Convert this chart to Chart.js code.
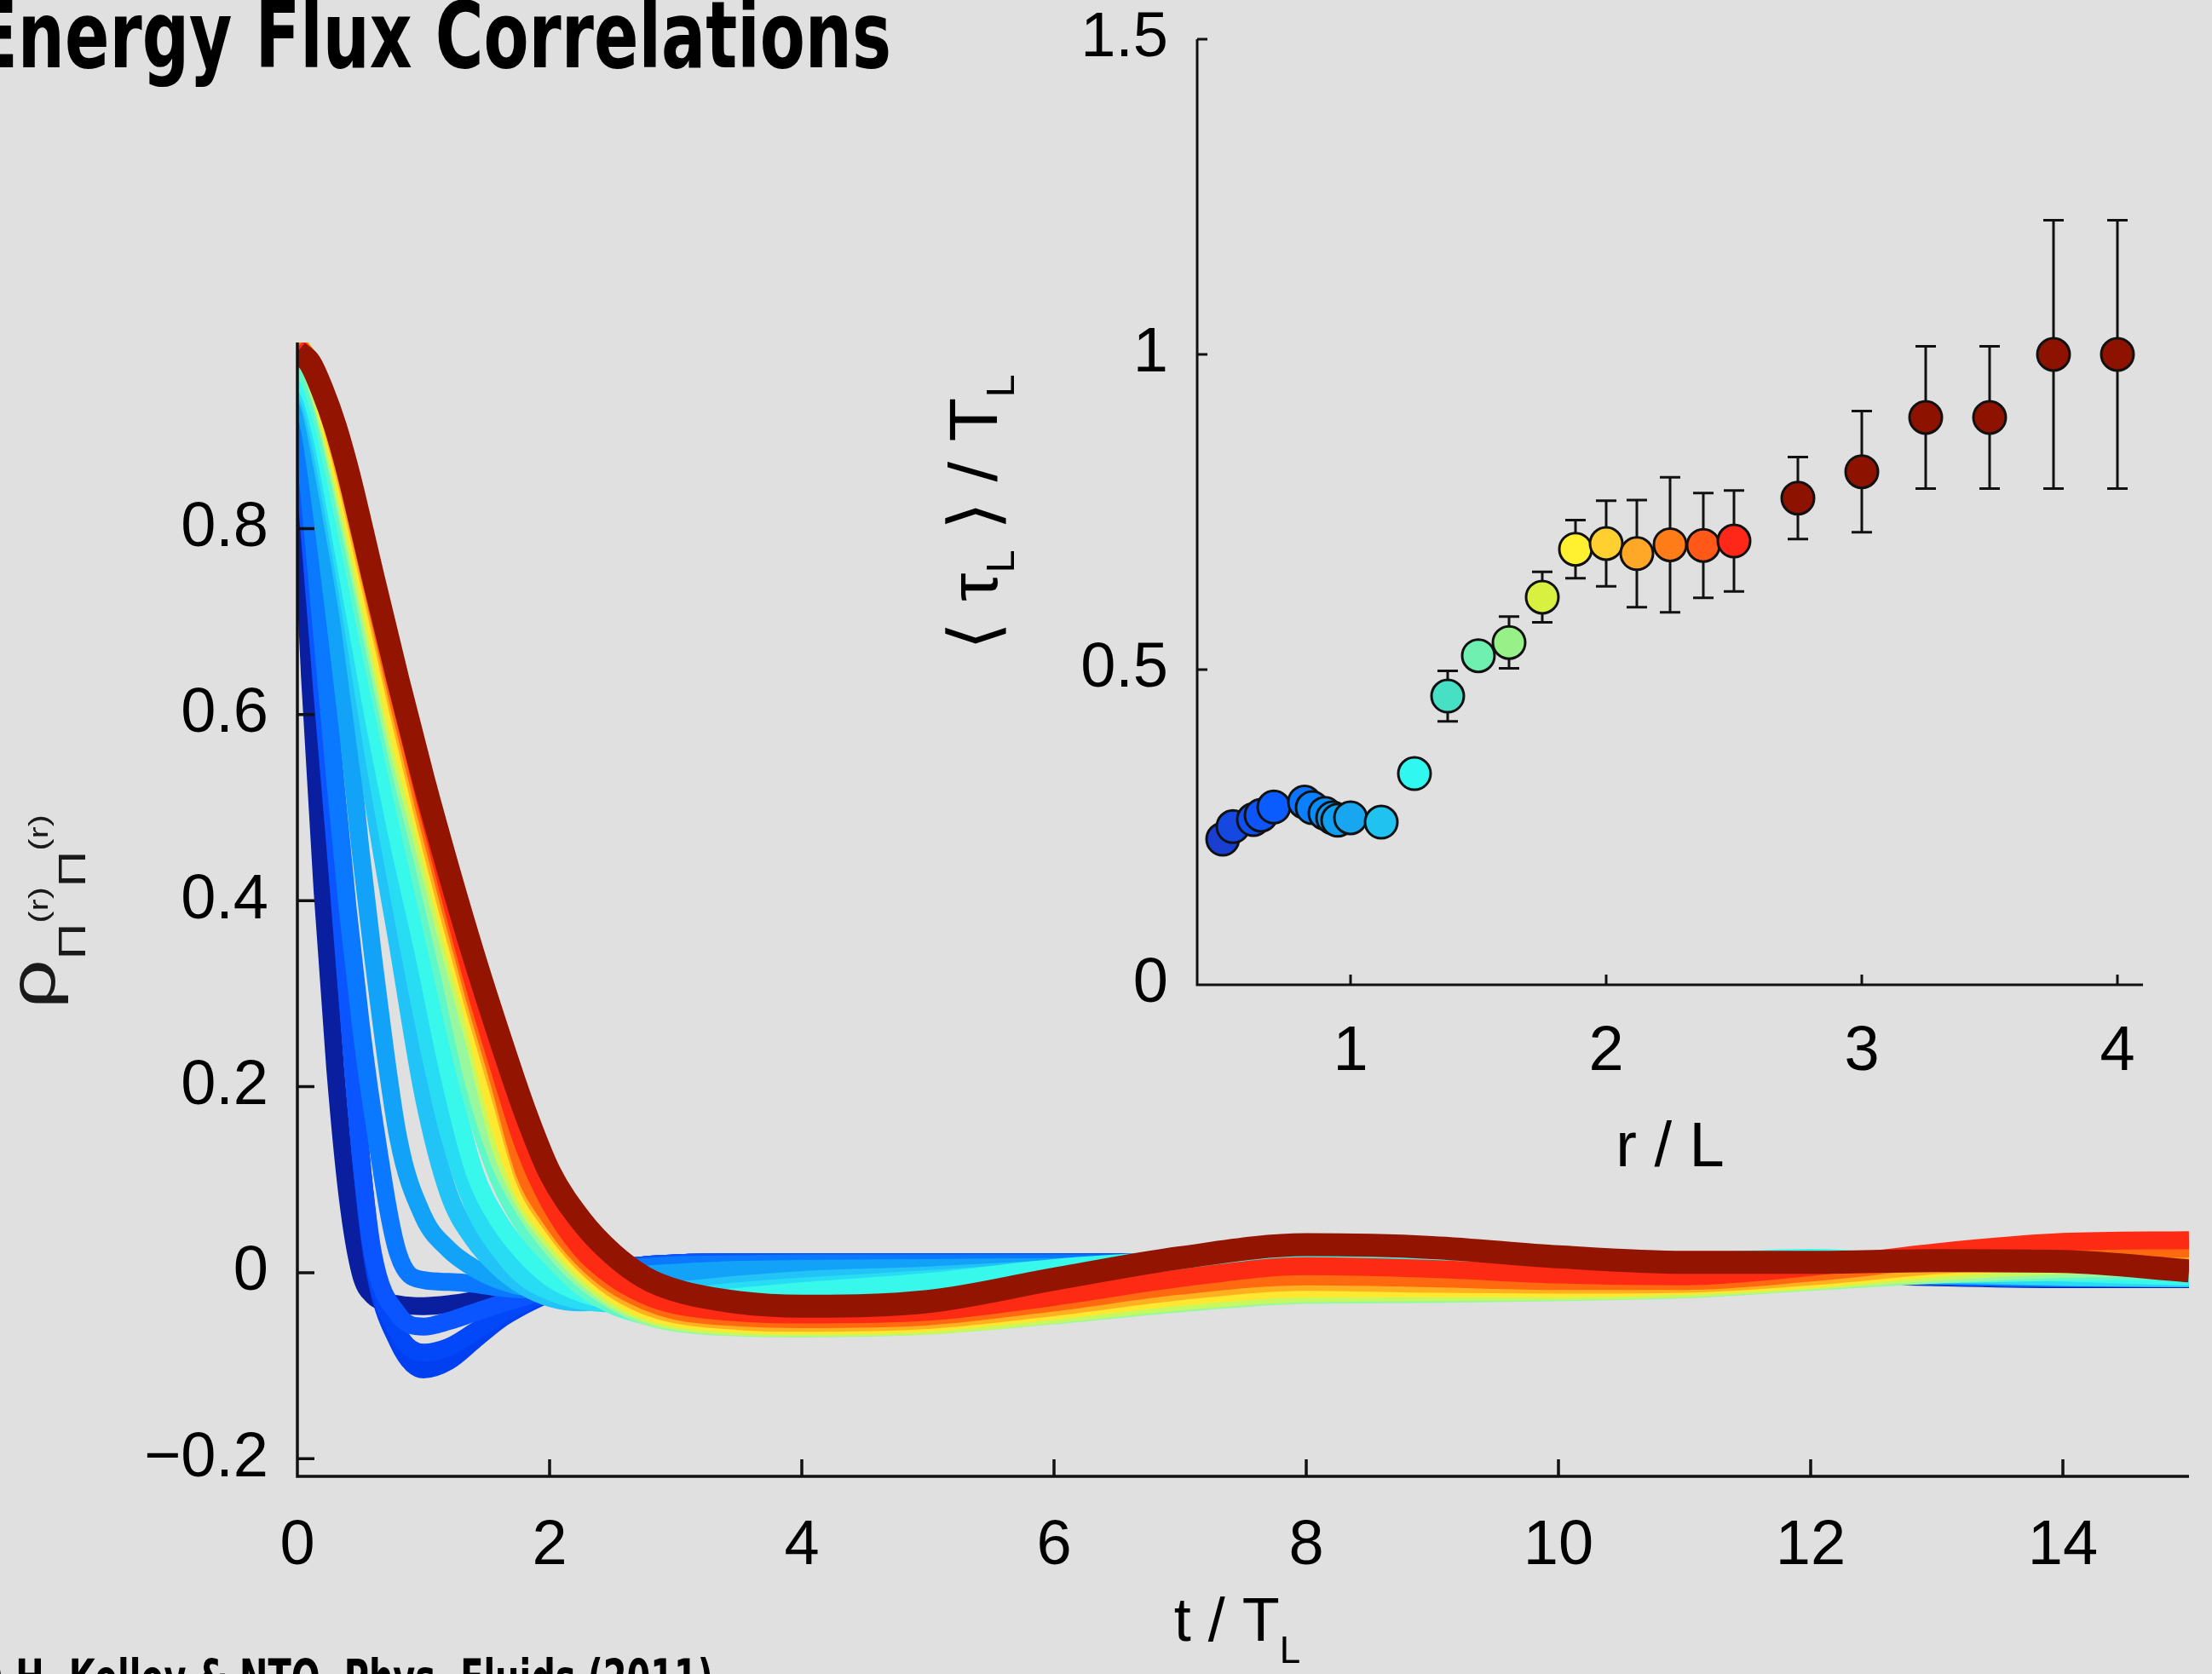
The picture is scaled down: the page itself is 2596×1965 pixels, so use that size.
<!DOCTYPE html>
<html>
<head>
<meta charset="utf-8">
<script src="https://cdn.jsdelivr.net/npm/chart.js@4.4.1/dist/chart.umd.min.js"></script>
<style>
    html, body { margin: 0; padding: 0; background: #e0e0e0; }
    #wrap { position: relative; width: 2596px; height: 1965px; overflow: hidden; background: #e0e0e0; }
    #main { position: absolute; left: 0; top: 0; }
    #inset { position: absolute; left: 1000px; top: 0; }
</style>
</head>
<body>
<div id="wrap">
    <canvas id="main" width="2596" height="1965"></canvas>
    <canvas id="inset" width="1596" height="1420"></canvas>
</div>
<script>
// time lags t / T_L shared by all correlation curves
const tLag = [0, 0.1, 0.2, 0.3, 0.4, 0.5, 0.6, 0.8, 1.0, 1.2, 1.4, 1.6, 1.8, 2.0, 2.25, 2.5, 2.75, 3, 3.5, 4, 5, 6, 7, 8, 9, 10, 11, 12, 13, 14, 15];

// correlation curves, small r (blue) to large r (dark red)
const rhoNavy = [0.93, 0.64, 0.41, 0.22, 0.08, 0.0, -0.025, -0.034, -0.036, -0.034, -0.030, -0.025, -0.019, -0.012, -0.004, 0.004, 0.008, 0.010, 0.011, 0.011, 0.011, 0.011, 0.010, 0.009, 0.007, 0.005, 0.002, -0.002, -0.005, -0.007, -0.007];
const rhoDeepBlue = [0.95, 0.80, 0.64, 0.49, 0.30, 0.13, 0.012, -0.075, -0.104, -0.095, -0.073, -0.051, -0.035, -0.022, -0.008, 0.003, 0.008, 0.010, 0.011, 0.011, 0.011, 0.011, 0.011, 0.010, 0.008, 0.006, 0.003, -0.001, -0.004, -0.006, -0.006];
const rhoDeepBlue2 = [0.95, 0.795, 0.63, 0.475, 0.295, 0.13, 0.015, -0.065, -0.086, -0.080, -0.064, -0.046, -0.032, -0.020, -0.007, 0.003, 0.008, 0.010, 0.011, 0.011, 0.011, 0.011, 0.011, 0.010, 0.008, 0.006, 0.003, -0.001, -0.004, -0.006, -0.006];
const rhoBlue = [0.95, 0.79, 0.62, 0.46, 0.29, 0.13, 0.02, -0.045, -0.058, -0.052, -0.043, -0.034, -0.026, -0.017, -0.006, 0.003, 0.008, 0.010, 0.011, 0.011, 0.011, 0.011, 0.010, 0.010, 0.008, 0.006, 0.003, -0.001, -0.004, -0.006, -0.006];
const rhoMidBlue = [0.955, 0.83, 0.68, 0.53, 0.39, 0.27, 0.17, 0.02, -0.008, -0.010, -0.012, -0.016, -0.018, -0.012, -0.004, 0.003, 0.006, 0.008, 0.009, 0.010, 0.010, 0.010, 0.010, 0.010, 0.008, 0.006, 0.004, 0.000, -0.003, -0.005, -0.005];
const rhoLightBlue = [0.955, 0.905, 0.81, 0.70, 0.585, 0.455, 0.34, 0.145, 0.06, 0.025, 0.005, -0.008, -0.015, -0.015, -0.010, -0.005, -0.002, 0.000, 0.003, 0.004, 0.005, 0.006, 0.008, 0.010, 0.008, 0.006, 0.004, 0.000, -0.003, -0.004, -0.004];
const rhoSky = [0.955, 0.93, 0.865, 0.79, 0.71, 0.61, 0.51, 0.35, 0.19, 0.085, 0.035, 0.005, -0.015, -0.027, -0.032, -0.030, -0.025, -0.020, -0.013, -0.008, -0.003, 0.004, 0.010, 0.012, 0.010, 0.008, 0.006, 0.003, -0.002, -0.005, -0.006];
const rhoSky2 = [0.955, 0.937, 0.88, 0.808, 0.73, 0.645, 0.56, 0.41, 0.27, 0.15, 0.07, 0.025, -0.005, -0.020, -0.030, -0.033, -0.031, -0.027, -0.020, -0.015, -0.007, 0.002, 0.010, 0.014, 0.012, 0.009, 0.007, 0.005, 0.000, -0.004, -0.005];
const rhoCyan = [0.96, 0.945, 0.895, 0.825, 0.75, 0.675, 0.60, 0.465, 0.345, 0.215, 0.11, 0.055, 0.02, -0.005, -0.022, -0.030, -0.032, -0.031, -0.026, -0.020, -0.010, 0.005, 0.014, 0.020, 0.018, 0.013, 0.012, 0.016, 0.008, 0.000, -0.004];
const rhoAqua = [0.975, 0.958, 0.915, 0.855, 0.79, 0.722, 0.655, 0.53, 0.41, 0.29, 0.18, 0.10, 0.05, 0.018, -0.015, -0.035, -0.046, -0.052, -0.055, -0.055, -0.050, -0.040, -0.028, -0.020, -0.018, -0.016, -0.013, -0.007, -0.002, 0.001, 0.002];
const rhoGreen = [0.99, 0.972, 0.93, 0.873, 0.81, 0.745, 0.678, 0.55, 0.44, 0.325, 0.205, 0.12, 0.068, 0.03, -0.006, -0.030, -0.046, -0.054, -0.059, -0.060, -0.057, -0.046, -0.033, -0.024, -0.023, -0.021, -0.018, -0.010, -0.002, 0.004, 0.006];
const rhoLime = [1.0, 0.975, 0.934, 0.88, 0.82, 0.757, 0.692, 0.565, 0.46, 0.352, 0.25, 0.14, 0.076, 0.038, 0.000, -0.027, -0.043, -0.052, -0.058, -0.059, -0.057, -0.045, -0.031, -0.022, -0.021, -0.020, -0.017, -0.009, 0.001, 0.008, 0.010];
const rhoYellow = [1.0, 0.978, 0.94, 0.888, 0.83, 0.77, 0.706, 0.58, 0.478, 0.37, 0.27, 0.16, 0.085, 0.045, 0.006, -0.022, -0.040, -0.049, -0.055, -0.057, -0.054, -0.041, -0.026, -0.017, -0.017, -0.017, -0.014, -0.007, 0.005, 0.013, 0.016];
const rhoOrange = [1.0, 0.98, 0.944, 0.897, 0.843, 0.784, 0.724, 0.603, 0.49, 0.385, 0.286, 0.193, 0.10, 0.054, 0.012, -0.017, -0.035, -0.045, -0.052, -0.054, -0.051, -0.037, -0.020, -0.010, -0.012, -0.013, -0.012, -0.004, 0.008, 0.017, 0.019];
const rhoOrangeRed = [0.998, 0.98, 0.946, 0.902, 0.85, 0.792, 0.733, 0.614, 0.503, 0.398, 0.298, 0.205, 0.108, 0.06, 0.017, -0.012, -0.030, -0.041, -0.048, -0.050, -0.047, -0.032, -0.014, -0.004, -0.006, -0.009, -0.009, 0.000, 0.014, 0.024, 0.026];
const rhoRed = [0.995, 0.98, 0.948, 0.906, 0.856, 0.80, 0.742, 0.625, 0.515, 0.41, 0.31, 0.22, 0.135, 0.075, 0.025, -0.005, -0.024, -0.035, -0.043, -0.045, -0.042, -0.026, -0.006, 0.007, 0.004, -0.002, -0.004, 0.006, 0.022, 0.033, 0.035];
const rhoDarkRed = [0.99, 0.978, 0.948, 0.91, 0.862, 0.806, 0.748, 0.636, 0.53, 0.432, 0.34, 0.255, 0.175, 0.108, 0.056, 0.02, -0.005, -0.019, -0.032, -0.036, -0.031, -0.007, 0.016, 0.030, 0.027, 0.017, 0.011, 0.011, 0.013, 0.012, 0.002];

const curveSeries = [rhoNavy, rhoDeepBlue, rhoDeepBlue2, rhoBlue, rhoMidBlue, rhoLightBlue, rhoSky, rhoSky2, rhoCyan, rhoAqua, rhoGreen, rhoLime, rhoYellow, rhoOrange, rhoOrangeRed, rhoRed, rhoDarkRed];
const curveColors = ["#0a1fa0", "#0040f0", "#0348f8", "#0a55ff", "#0a78ff", "#12a2f8", "#22c4f8", "#28dcf4", "#38f8ec", "#60f8c8", "#98f8a0", "#c8f860", "#ffe830", "#ffb020", "#ff6a10", "#fd2a14", "#931400"];

const yTicks = [-0.2, 0, 0.2, 0.4, 0.6, 0.8];
const yTickLabels = ["\u22120.2", "0", "0.2", "0.4", "0.6", "0.8"];
const xTicks = [0, 2, 4, 6, 8, 10, 12, 14];
const xTickLabels = ["0", "2", "4", "6", "8", "10", "12", "14"];

// inset: mean decorrelation time vs separation
const rOverL = [0.50, 0.54, 0.62, 0.65, 0.70, 0.82, 0.85, 0.90, 0.93, 0.95, 1.00, 1.12, 1.25, 1.38, 1.50, 1.62, 1.75, 1.88, 2.00, 2.12, 2.25, 2.38, 2.50, 2.75, 3.00, 3.25, 3.50, 3.75, 4.00];
const tauMean = [0.231, 0.251, 0.262, 0.269, 0.282, 0.290, 0.281, 0.272, 0.265, 0.261, 0.265, 0.258, 0.335, 0.458, 0.522, 0.543, 0.615, 0.691, 0.700, 0.684, 0.698, 0.697, 0.704, 0.772, 0.814, 0.900, 0.900, 1.000, 1.000];
const tauErr = [0, 0, 0, 0, 0, 0, 0, 0, 0, 0, 0, 0, 0, 0.04, 0, 0.041, 0.04, 0.046, 0.068, 0.085, 0.107, 0.083, 0.08, 0.065, 0.096, 0.113, 0.113, 0.213, 0.213];
const pointColors = ["#1a3fd0", "#1448e0", "#1050f0", "#0d55f8", "#0a5cff", "#0a74ff", "#0a80ff", "#0a8cf8", "#0e96f0", "#109ef0", "#18a6f0", "#20c2f0", "#30f8f0", "#48e0c4", "#70f0b0", "#98f088", "#d8f040", "#fff030", "#ffd030", "#ffa828", "#ff7c18", "#ff5818", "#ff2818", "#8e1200", "#8e1200", "#8e1200", "#8e1200", "#8e1200", "#8e1200"];

const insetYTicks = [0, 0.5, 1, 1.5];
const insetYTickLabels = ["0", "0.5", "1", "1.5"];
const insetXTicks = [1, 2, 3, 4];
const insetXTickLabels = ["1", "2", "3", "4"];

const FONT = '"Liberation Sans", Arial, Helvetica, sans-serif';
const NARROW = '"Liberation Sans Narrow", "DejaVu Sans Condensed", "Liberation Sans", sans-serif';

function drawRich(ctx, parts, fit) {
    // parts: [text, size, dy]; drawn centred at x=0, baseline y=0
    let total = 0;
    parts.forEach(p => {
        ctx.font = p[1] + "px " + FONT;
        p.w = ctx.measureText(p[0]).width;
        total += p.w;
    });
    if (fit) ctx.scale(fit / total, 1);
    let cx = -total / 2;
    parts.forEach(p => {
        ctx.font = p[1] + "px " + FONT;
        ctx.fillText(p[0], cx, p[2]);
        cx += p.w;
    });
}

function drawFitted(ctx, text, font, x, y, width) {
    ctx.save();
    ctx.font = font;
    const w = ctx.measureText(text).width;
    ctx.translate(x, y);
    ctx.scale(width / w, 1);
    ctx.fillText(text, 0, 0);
    ctx.restore();
}

// keep the layout from adding room for edge labels
function noEdgePadding(s) {
    s.paddingTop = 0;
    s.paddingBottom = 0;
    s.paddingLeft = 0;
    s.paddingRight = 0;
}

function axesWithInwardTicks(tickLen, lw) {
    return {
        id: "inwardAxes",
        afterDatasetsDraw(chart) {
            const { ctx, chartArea: a, scales: { x, y } } = chart;
            ctx.save();
            ctx.strokeStyle = "#111";
            ctx.lineWidth = lw;
            ctx.beginPath();
            ctx.moveTo(a.left, a.top);
            ctx.lineTo(a.left, a.bottom);
            ctx.lineTo(a.right, a.bottom);
            x.ticks.forEach(t => {
                const px = x.getPixelForValue(t.value);
                ctx.moveTo(px, a.bottom);
                ctx.lineTo(px, a.bottom - tickLen);
            });
            y.ticks.forEach(t => {
                const py = y.getPixelForValue(t.value);
                ctx.moveTo(a.left, py);
                ctx.lineTo(a.left + tickLen, py);
            });
            ctx.stroke();
            ctx.restore();
        }
    };
}

const mainText = {
    id: "mainText",
    afterDraw(chart) {
        const ctx = chart.ctx;
        ctx.save();
        ctx.fillStyle = "#000";
        ctx.textBaseline = "alphabetic";
        drawFitted(ctx, "Energy Flux Correlations", "bold 108px " + NARROW, -32, 79, 1078);
        drawFitted(ctx, "D.H. Kelley & NTO, Phys. Fluids (2011)", "bold 61px " + NARROW, -30, 1991, 867);

        // x title
        ctx.save();
        ctx.translate(1452, 1926);
        drawRich(ctx, [["t / T", 72, 0], ["L", 44, 26]]);
        ctx.restore();

        // y title
        ctx.save();
        ctx.fillStyle = "#1a1a1a";
        ctx.translate(64, 1070);
        ctx.rotate(-Math.PI / 2);
        drawRich(ctx, [["\u03C1", 76, 0], ["\u03A0", 44, 36], ["(r)", 32, -8], ["\u03A0", 44, 36], ["(r)", 32, -8]], 228);
        ctx.restore();
        ctx.restore();
    }
};

const insetText = {
    id: "insetText",
    afterDraw(chart) {
        const ctx = chart.ctx;
        ctx.save();
        ctx.fillStyle = "#000";
        ctx.textBaseline = "alphabetic";
        // x title (canvas is offset 1000px from the page)
        ctx.save();
        ctx.translate(960, 1369);
        drawRich(ctx, [["r / L", 74, 0]]);
        ctx.restore();
        // y title
        ctx.save();
        ctx.translate(170, 601);
        ctx.rotate(-Math.PI / 2);
        drawRich(ctx, [["\u27E8 \u03C4", 80, 0], ["L", 46, 20], [" \u27E9 / T", 80, 0], ["L", 46, 20]], 323);
        ctx.restore();
        ctx.restore();
    }
};

const errorBars = {
    id: "errorBars",
    beforeDatasetsDraw(chart) {
        const { ctx, scales: { x, y } } = chart;
        ctx.save();
        ctx.strokeStyle = "#111";
        ctx.lineWidth = 3;
        rOverL.forEach((r, i) => {
            const e = tauErr[i];
            if (!e) return;
            const px = x.getPixelForValue(r);
            const top = y.getPixelForValue(tauMean[i] + e);
            const bot = y.getPixelForValue(tauMean[i] - e);
            ctx.beginPath();
            ctx.moveTo(px, top);
            ctx.lineTo(px, bot);
            ctx.moveTo(px - 12, top);
            ctx.lineTo(px + 12, top);
            ctx.moveTo(px - 12, bot);
            ctx.lineTo(px + 12, bot);
            ctx.stroke();
        });
        ctx.restore();
    }
};

const n = curveSeries.length;
const curveDatasets = curveSeries.map((vals, i) => ({
    data: tLag.map((t, k) => ({ x: t, y: vals[k] })),
    borderColor: curveColors[i],
    borderWidth: i === n - 1 ? 27 : 21,
    pointRadius: 0,
    fill: false,
    cubicInterpolationMode: "monotone",
    borderCapStyle: "butt",
    borderJoinStyle: "round",
    order: n - i,
    clip: 0,
}));

const tickFont = { family: FONT, size: 74 };

const config = {
    type: "line",
    data: { datasets: curveDatasets },
    options: {
        responsive: false,
        animation: false,
        layout: { padding: { left: 0, top: 402, right: 27, bottom: 0 } },
        plugins: { legend: { display: false }, tooltip: { enabled: false } },
        scales: {
            x: {
                type: "linear",
                min: 0,
                max: 15,
                grid: { display: false, drawTicks: false },
                border: { display: false },
                afterBuildTicks: (s) => { s.ticks = xTicks.map(v => ({ value: v })); },
                afterFit: (s) => { s.height = 232; noEdgePadding(s); },
                ticks: {
                    font: tickFont, color: "#000", padding: 38, autoSkip: false, maxRotation: 0,
                    callback: (v, i) => xTickLabels[i],
                },
            },
            y: {
                min: -0.219,
                max: 1.0,
                grid: { display: false, drawTicks: false },
                border: { display: false },
                afterBuildTicks: (s) => { s.ticks = yTicks.map(v => ({ value: v })); },
                afterFit: (s) => { s.width = 349; noEdgePadding(s); },
                ticks: {
                    font: tickFont, color: "#000", padding: 34, autoSkip: false,
                    callback: (v, i) => yTickLabels[i],
                },
            },
        },
    },
    plugins: [axesWithInwardTicks(20, 3.5), mainText],
};

const config2 = {
    type: "scatter",
    data: {
        datasets: [
            {
                data: rOverL.map((r, i) => ({ x: r, y: tauMean[i] })),
                backgroundColor: pointColors,
                borderColor: "#111",
                borderWidth: 3,
                pointRadius: 19,
                clip: false,
            },
        ],
    },
    options: {
        responsive: false,
        animation: false,
        layout: { padding: { left: 0, top: 46, right: 81, bottom: 0 } },
        plugins: { legend: { display: false }, tooltip: { enabled: false } },
        scales: {
            x: {
                type: "linear",
                min: 0.4,
                max: 4.1,
                grid: { display: false, drawTicks: false },
                border: { display: false },
                afterBuildTicks: (s) => { s.ticks = insetXTicks.map(v => ({ value: v })); },
                afterFit: (s) => { s.height = 264; noEdgePadding(s); },
                ticks: {
                    font: tickFont, color: "#000", padding: 35, autoSkip: false, maxRotation: 0,
                    callback: (v, i) => insetXTickLabels[i],
                },
            },
            y: {
                min: 0,
                max: 1.5,
                grid: { display: false, drawTicks: false },
                border: { display: false },
                afterBuildTicks: (s) => { s.ticks = insetYTicks.map(v => ({ value: v })); },
                afterFit: (s) => { s.width = 405; noEdgePadding(s); },
                ticks: {
                    font: tickFont, color: "#000", padding: 34, autoSkip: false,
                    callback: (v, i) => insetYTickLabels[i],
                },
            },
        },
    },
    plugins: [errorBars, axesWithInwardTicks(12, 3), insetText],
};

var myChart = new Chart(document.getElementById("main"), config);
var myChart2 = new Chart(document.getElementById("inset"), config2);
</script>
</body>
</html>
